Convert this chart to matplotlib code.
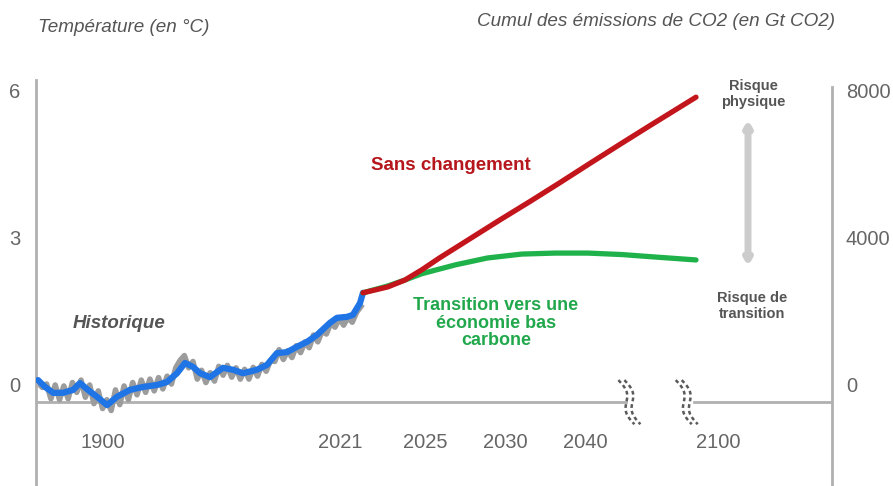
import numpy as np
import matplotlib.pyplot as plt

plt.rcParams['font.family'] = ['Liberation Sans', 'DejaVu Sans']

# historical temperature anomaly (°C), smoothed
hist_years = [1870, 1873.3, 1877, 1881.6, 1886.3, 1889.5, 1893.2, 1897.4, 1902.1, 1906.7,
              1912.7, 1918.8, 1925.3, 1929.9, 1934.6, 1938.3, 1942, 1945.3, 1949.9, 1955.9,
              1960.6, 1965.2, 1971.7, 1976.4, 1981, 1985.7, 1990.3, 1995, 1999.6, 2005.7,
              2008.9, 2013.6, 2016.3, 2019.6, 2021]
hist_smooth = [0.10, -0.04, -0.16, -0.16, -0.10, 0.04, -0.10, -0.24, -0.41, -0.24,
               -0.10, -0.04, 0.00, 0.06, 0.24, 0.45, 0.37, 0.24, 0.16, 0.35,
               0.31, 0.24, 0.31, 0.41, 0.65, 0.67, 0.78, 0.88, 1.02, 1.27,
               1.37, 1.39, 1.43, 1.67, 1.88]

# annual values (every 2 years)
raw_years = list(range(1870, 2021, 2))
hist_raw = [0.05, -0.05, 0.02, -0.28, 0.00, -0.30, -0.02, -0.28, 0.05, -0.15,
            0.10, -0.25, 0.00, -0.38, -0.12, -0.48, -0.30, -0.52, -0.10, -0.40,
            -0.02, -0.30, 0.05, -0.20, 0.10, -0.15, 0.12, -0.12, 0.15, -0.08,
            0.18, 0.02, 0.35, 0.50, 0.60, 0.35, 0.48, 0.12, 0.30, 0.05,
            0.25, 0.08, 0.38, 0.20, 0.40, 0.16, 0.35, 0.12, 0.32, 0.12,
            0.36, 0.18, 0.42, 0.28, 0.50, 0.48, 0.72, 0.52, 0.70, 0.56,
            0.80, 0.66, 0.88, 0.76, 1.02, 0.88, 1.10, 1.04, 1.26, 1.18,
            1.36, 1.22, 1.38, 1.28, 1.48, 1.60]

# scenarios (°C)
bau_years = [2021, 2022.6, 2023.7, 2024.8, 2025.9, 2027.8, 2029.7, 2033.1, 2036.9,
             2042.7, 2059, 2075.1, 2100]
bau = [1.88, 2.00, 2.14, 2.35, 2.59, 2.98, 3.37, 3.74, 4.13, 4.52, 4.91, 5.29, 5.87]
trans_years = [2021, 2022.6, 2023.7, 2024.8, 2026.9, 2028.9, 2032.1, 2036.25, 2041.6,
               2060, 2077.8, 2100]
transition = [1.88, 2.02, 2.14, 2.27, 2.45, 2.59, 2.67, 2.69, 2.69, 2.66, 2.61, 2.55]

year_ticks = [1900, 2021, 2025, 2030, 2040, 2100]
temp_ticks = [0, 3, 6]
co2_ticks = [0, 4000, 8000]
break_years = [2064, 2095]

# non linear time axis (year -> horizontal position)
anchor_years = [1860, 1870, 2021, 2025, 2030, 2040, 2100, 2200]
anchor_pos = [32, 38, 363, 425, 505, 585, 696, 892]


def fwd(x):
    return np.interp(x, anchor_years, anchor_pos)


def inv(x):
    return np.interp(x, anchor_pos, anchor_years)


W, H = 893, 486
fig = plt.figure(figsize=(W / 100, H / 100), dpi=100)
ax = fig.add_axes([36 / W, 0, 796 / W, 406 / H])
ax.set_xscale('function', functions=(fwd, inv))
ax.set_xlim(inv(36), inv(832))
ymin, ymax = -2.06, 6.22
ax.set_ylim(ymin, ymax)

axis_col = '#b0b0b0'
ax.plot(raw_years, hist_raw, color='#9c9c9c', lw=4, solid_joinstyle='round', zorder=2)
ax.plot(hist_years, hist_smooth, color='#1f74e6', lw=4.5, solid_capstyle='round',
        solid_joinstyle='round', zorder=3)
ax.plot(trans_years, transition, color='#1fb24b', lw=3.8, solid_capstyle='round',
        solid_joinstyle='round', zorder=3)
ax.plot(bau_years, bau, color='#c3161c', lw=3.8, solid_capstyle='round',
        solid_joinstyle='round', zorder=4)

# baseline with break
base = -0.35
ax.plot([inv(36), inv(fwd(break_years[0]) - 3)], [base, base], color=axis_col, lw=2, zorder=1)
ax.plot([inv(fwd(break_years[1]) + 7), inv(832)], [base, base], color=axis_col, lw=2, zorder=1)
t = np.linspace(0, 1, 40)
for bx in break_years:
    for off in (-3, 3):
        xp = fwd(bx) + off - 8 + 16 * t + 4 * np.sin(2 * np.pi * t)
        yp = base + 0.45 - 0.9 * t
        ax.plot(inv(xp), yp, color='#5a5a5a', lw=1.8, ls=(0, (1.5, 1.2)), zorder=5)

for sp in ['top', 'bottom', 'right']:
    ax.spines[sp].set_visible(False)
ax.spines['left'].set_color(axis_col)
ax.spines['left'].set_linewidth(2)
ax.set_xticks([])
ax.set_yticks(temp_ticks)
ax.tick_params(axis='y', length=0, pad=11, labelsize=14.5, labelcolor='#666666')

ax2 = ax.twinx()
ax2.set_ylim(ymin * 8000 / 6, ymax * 8000 / 6)
ax2.set_yticks(co2_ticks)
ax2.tick_params(axis='y', length=0, pad=10, labelsize=14.5, labelcolor='#666666')
for sp in ['top', 'bottom', 'left']:
    ax2.spines[sp].set_visible(False)
ax2.spines['right'].set_color(axis_col)
ax2.spines['right'].set_linewidth(2)
ax2.spines['right'].set_bounds(ymin * 8000 / 6, 6.08 * 8000 / 6)

# year labels
for yr in year_ticks:
    ha = 'center'
    if yr == 2021:
        ha = 'right'
    elif yr == 2100:
        ha = 'left'
    ax.text(yr, -1.18, str(yr), ha=ha, va='center', fontsize=14.5, color='#666666')

# titles and annotations
fig.text(38 / W, 1 - 28 / H, 'Température (en °C)', ha='left', va='center',
         fontsize=13.6, style='italic', color='#555555')
fig.text(835 / W, 1 - 22 / H, 'Cumul des émissions de CO2 (en Gt CO2)', ha='right',
         va='center', fontsize=13.6, style='italic', color='#555555')
fig.text(451 / W, 1 - 165 / H, 'Sans changement', ha='center', va='center',
         fontsize=13.5, weight='bold', color='#b5171d')
fig.text(119 / W, 1 - 323 / H, 'Historique', ha='center', va='center',
         fontsize=13.5, weight='bold', style='italic', color='#555555')
fig.text(496 / W, 1 - 323 / H, 'Transition vers une\néconomie bas\ncarbone', ha='center',
         va='center', fontsize=13, weight='bold', color='#22a84c', linespacing=1.05)
fig.text(753 / W, 1 - 94 / H, 'Risque\nphysique', ha='center', va='center',
         fontsize=10.5, weight='bold', color='#555555', linespacing=1.15)
fig.text(752 / W, 1 - 306 / H, 'Risque de\ntransition', ha='center', va='center',
         fontsize=10.5, weight='bold', color='#555555', linespacing=1.15)
ax.annotate('', xy=(748, H - 120), xytext=(748, H - 266), xycoords='figure pixels',
            textcoords='figure pixels',
            arrowprops=dict(arrowstyle='<|-|>,head_length=0.3,head_width=0.18',
                            color='#cccccc', lw=5, shrinkA=0, shrinkB=0))

fig.savefig('out.png', dpi=100)
